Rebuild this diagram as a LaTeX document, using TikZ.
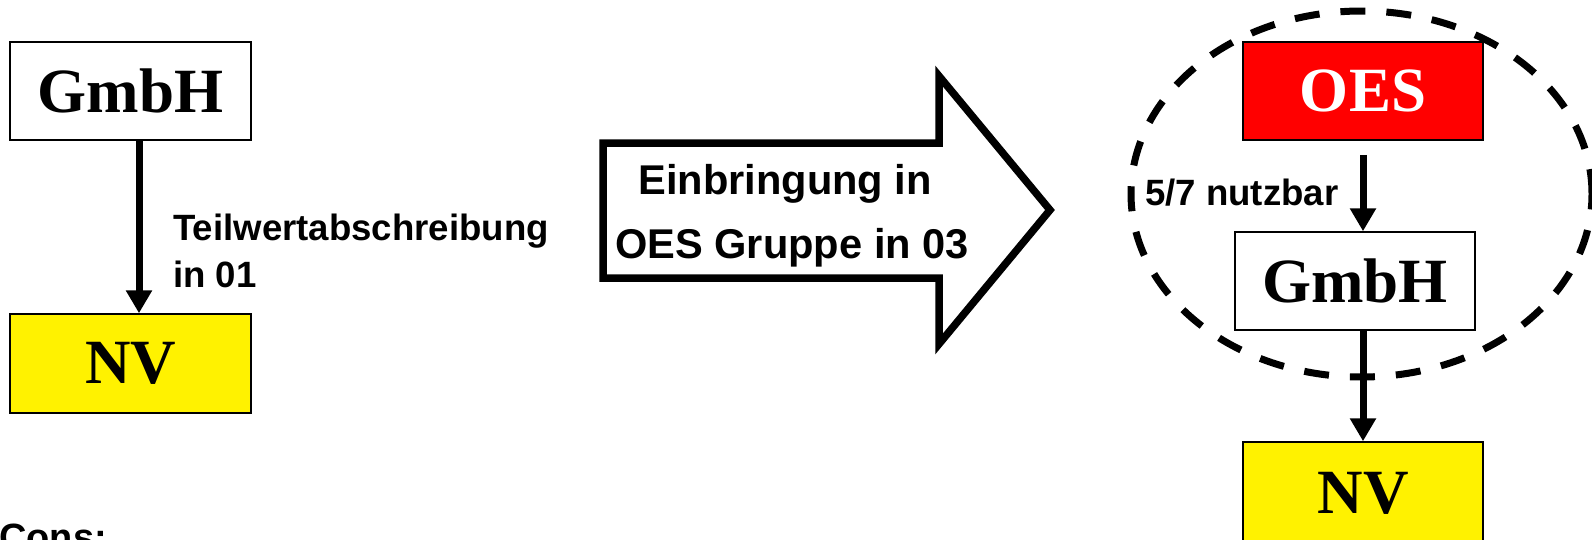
\documentclass[tikz,border=0pt]{standalone}
\usepackage{fontspec}
\setmainfont{Liberation Serif}
\setsansfont{Liberation Sans}
\usetikzlibrary{arrows.meta,shapes.geometric}

\begin{document}
\begin{tikzpicture}[x=1pt,y=-1pt,
  entity/.style={draw=black, line width=1.5pt, inner sep=0pt,
    minimum width=240pt, minimum height=98pt,
    font=\fontsize{63}{63}\selectfont\bfseries},
  lbl/.style={inner sep=0pt, font=\fontsize{36.6}{36.6}\selectfont\sffamily\bfseries},
  biglbl/.style={inner sep=0pt, font=\fontsize{41.6}{41.6}\selectfont\sffamily\bfseries},
  flow/.style={line width=7pt, -{Triangle[length=23pt,width=25pt]}},
  group/.style={draw, ellipse, line width=7pt, dash pattern=on 25pt off 21pt,
    inner sep=0pt, minimum width=461pt, minimum height=366pt},
]
\useasboundingbox (0,0) rectangle (1592,539);
\clip (0,0) rectangle (1592,539);

% before: GmbH holding NV
\node[entity, fill=white, minimum width=241pt] (g1) at (130.5,91) {GmbH};
\node[entity, fill=yellow, minimum width=241pt, minimum height=99pt] (nv1) at (130.5,363.5) {NV};
\draw[flow] ([xshift=8.5pt]g1.south) -- ([xshift=8.5pt]nv1.north);
\node[lbl, anchor=base west] (tw1) at (173,240) {Teilwertabschreibung};
\node[lbl, anchor=base west] (tw2) at (173,287) {in 01};

% block arrow
\draw[line width=7.5pt, line join=miter] (603,143) -- (939,143) -- (939,76)
  -- (1050,210) -- (939,344) -- (939,278) -- (603,278) -- cycle;
\node[biglbl, anchor=base] (ein1) at (785,194) {Einbringung in};
\node[biglbl, anchor=base] (ein2) at (792,258) {OES Gruppe in 03};

% after: OES group
\node[group] (grp) at (1361.5,194) {};
\node[entity, fill=red, text=white] (oes) at (1363,91) {OES};
\node[entity, fill=white] (g2) at (1355,281) {GmbH};
\node[entity, fill=yellow, minimum height=102pt] (nv2) at (1363,493) {NV};
\draw[flow] ([yshift=-14pt]oes.south) -- (oes.south |- g2.north);
\draw[flow] (oes.south |- g2.south) -- (oes.south |- nv2.north);
\node[lbl, anchor=base west] (nutz) at (1145,205) {5/7 nutzbar};

% list heading below
\node[font=\fontsize{38}{38}\selectfont\sffamily\bfseries, inner sep=0pt, anchor=base west] (cons) at (-1,550) {Cons:};
\end{tikzpicture}
\end{document}
